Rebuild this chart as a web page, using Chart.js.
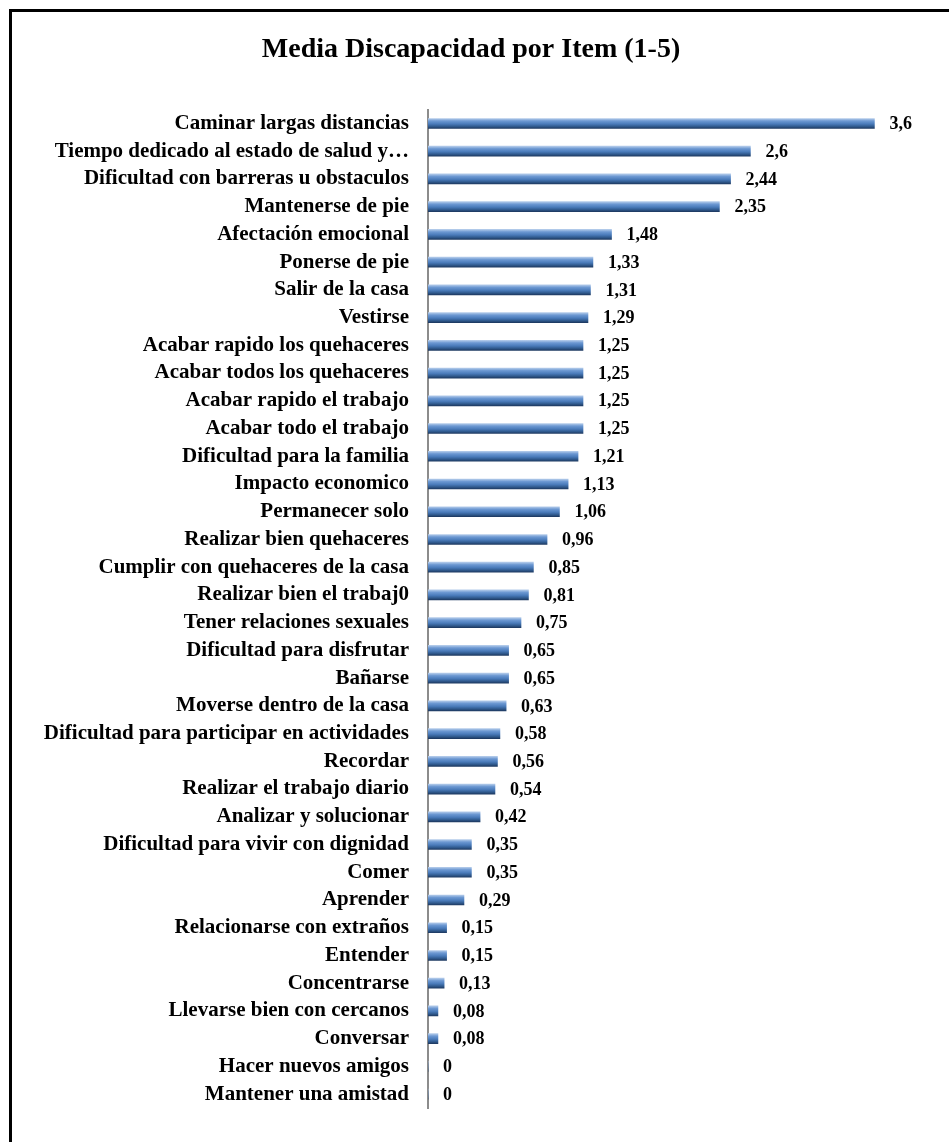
<!DOCTYPE html>
<html>
<head>
<meta charset="utf-8">
<script src="https://cdn.jsdelivr.net/npm/chart.js@4/dist/chart.umd.min.js"></script>
<style>
  html, body { margin: 0; padding: 0; background: #fff; overflow: hidden; }
  #frame { position: absolute; left: 9px; top: 9px; width: 1000px; height: 1200px; border: 3px solid #000; }
  #wrap { position: absolute; left: 0; top: 0; width: 949px; height: 1142px; }
</style>
</head>
<body>
<div id="frame"></div>
<div id="wrap"><canvas id="chart"></canvas></div>
<script>
const TITLE = "Media Discapacidad por Item (1-5)";

const items = [
  "Caminar largas distancias",
  "Tiempo dedicado al estado de salud y…",
  "Dificultad con barreras u obstaculos",
  "Mantenerse de pie",
  "Afectación emocional",
  "Ponerse de pie",
  "Salir de la casa",
  "Vestirse",
  "Acabar rapido los quehaceres",
  "Acabar todos los quehaceres",
  "Acabar rapido el trabajo",
  "Acabar todo el trabajo",
  "Dificultad para la familia",
  "Impacto economico",
  "Permanecer solo",
  "Realizar bien quehaceres",
  "Cumplir con quehaceres de la casa",
  "Realizar bien el trabaj0",
  "Tener relaciones sexuales",
  "Dificultad para disfrutar",
  "Bañarse",
  "Moverse dentro de la casa",
  "Dificultad para participar en actividades",
  "Recordar",
  "Realizar el trabajo diario",
  "Analizar y solucionar",
  "Dificultad para vivir con dignidad",
  "Comer",
  "Aprender",
  "Relacionarse con extraños",
  "Entender",
  "Concentrarse",
  "Llevarse bien con cercanos",
  "Conversar",
  "Hacer nuevos amigos",
  "Mantener una amistad"
];

const means = [
  3.6, 2.6, 2.44, 2.35, 1.48, 1.33, 1.31, 1.29, 1.25, 1.25, 1.25, 1.25,
  1.21, 1.13, 1.06, 0.96, 0.85, 0.81, 0.75, 0.65, 0.65, 0.63, 0.58, 0.56,
  0.54, 0.42, 0.35, 0.35, 0.29, 0.15, 0.15, 0.13, 0.08, 0.08, 0, 0
];

const X_MAX = 4;
const BAR_H = 10;

// cylinder-like shading for each bar, built from the category scale
function barFill(ctx) {
  const chart = ctx.chart;
  const y = chart.scales.y;
  if (!y || y.top === undefined) return "#4F81BD";
  const cy = y.getPixelForValue(ctx.dataIndex);
  const g = chart.ctx.createLinearGradient(0, cy - BAR_H / 2, 0, cy + BAR_H / 2);
  g.addColorStop(0, "#B3CBEA");
  g.addColorStop(0.25, "#6C98D2");
  g.addColorStop(0.55, "#4A7BBA");
  g.addColorStop(0.8, "#305A8E");
  g.addColorStop(1, "#1E3A62");
  return g;
}

const valueLabels = {
  id: "valueLabels",
  afterDatasetsDraw(chart) {
    const ctx = chart.ctx;
    const meta = chart.getDatasetMeta(0);
    ctx.save();
    ctx.font = "bold 18px 'Liberation Serif', 'Times New Roman', serif";
    ctx.fillStyle = "#000";
    ctx.textAlign = "left";
    ctx.textBaseline = "middle";
    meta.data.forEach((bar, i) => {
      const txt = String(means[i]).replace(".", ",");
      ctx.fillText(txt, bar.x + 15, bar.y + 1);
    });
    ctx.restore();
  }
};

new Chart(document.getElementById("chart"), {
  type: "bar",
  data: {
    labels: items,
    datasets: [{
      data: means,
      backgroundColor: barFill,
      borderWidth: 0,
      barThickness: BAR_H
    }]
  },
  options: {
    indexAxis: "y",
    responsive: true,
    maintainAspectRatio: false,
    animation: false,
    layout: { padding: { left: 18, right: 25, top: 20, bottom: 34 } },
    plugins: {
      legend: { display: false },
      tooltip: { enabled: false },
      title: {
        display: true,
        text: TITLE,
        color: "#000",
        font: { family: "'Liberation Serif', 'Times New Roman', serif", size: 28, weight: "bold" },
        padding: { top: 13, bottom: 43 }
      }
    },
    scales: {
      x: {
        display: false,
        min: 0,
        max: X_MAX
      },
      y: {
        afterFit(s) { s.width = 410; },
        grid: { display: false, drawTicks: false },
        border: { display: true, color: "#8C8C8C", width: 2 },
        ticks: {
          autoSkip: false,
          padding: 19,
          color: "#000",
          font: { family: "'Liberation Serif', 'Times New Roman', serif", size: 21, weight: "bold" }
        }
      }
    }
  },
  plugins: [valueLabels]
});
</script>
</body>
</html>
